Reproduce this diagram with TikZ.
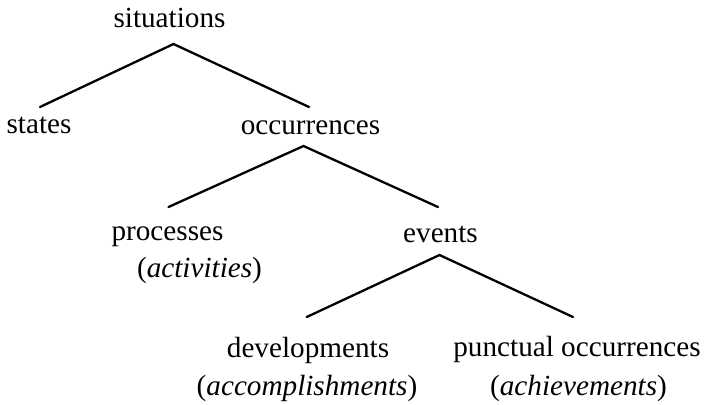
\documentclass[tikz,border=0pt]{standalone}
\usepackage{fontspec}
\setmainfont{Liberation Serif}
\usetikzlibrary{calc}
\tikzset{
  lbl/.style={anchor=base,inner sep=0pt,font=\fontsize{14.6}{17}\selectfont},
  branch/.style={line width=1.15pt,line cap=round}
}
\begin{document}
\begin{tikzpicture}[x=0.5pt,y=-0.5pt]
        \useasboundingbox(0,0)rectangle(707,404);
        \node[lbl](sit)at(169.5,27){situations};
        \node[lbl](sta)at(39,133){states};
        \node[lbl](occ)at(310.5,134){occurrences};
        \node[lbl](proc)at(167.5,240){processes};
        \node[lbl](act)at(199.5,277){(\textit{activities})};
        \node[lbl](evt)at(440.5,242){events};
        \node[lbl](dev)at(308,357){developments};
        \node[lbl](acc)at(307,395){(\textit{accomplishments})};
        \node[lbl](pun)at(577,356){punctual occurrences};
        \node[lbl](ach)at(578.5,395){(\textit{achievements})};
        % branches
        \draw[branch]($(sta.base)+(1,-26)$)--($(sit.base)+(4,17)$)--($(occ.base)+(-1.5,-27)$);
        \draw[branch]($(proc.base)+(1,-33)$)--($(occ.base)+(-7,12)$)--($(evt.base)+(-2.5,-35)$);
        \draw[branch]($(dev.base)+(-1.3,-40)$)--($(evt.base)+(-1,13)$)--($(pun.base)+(-4,-39)$);
    \end{tikzpicture}
\end{document}
